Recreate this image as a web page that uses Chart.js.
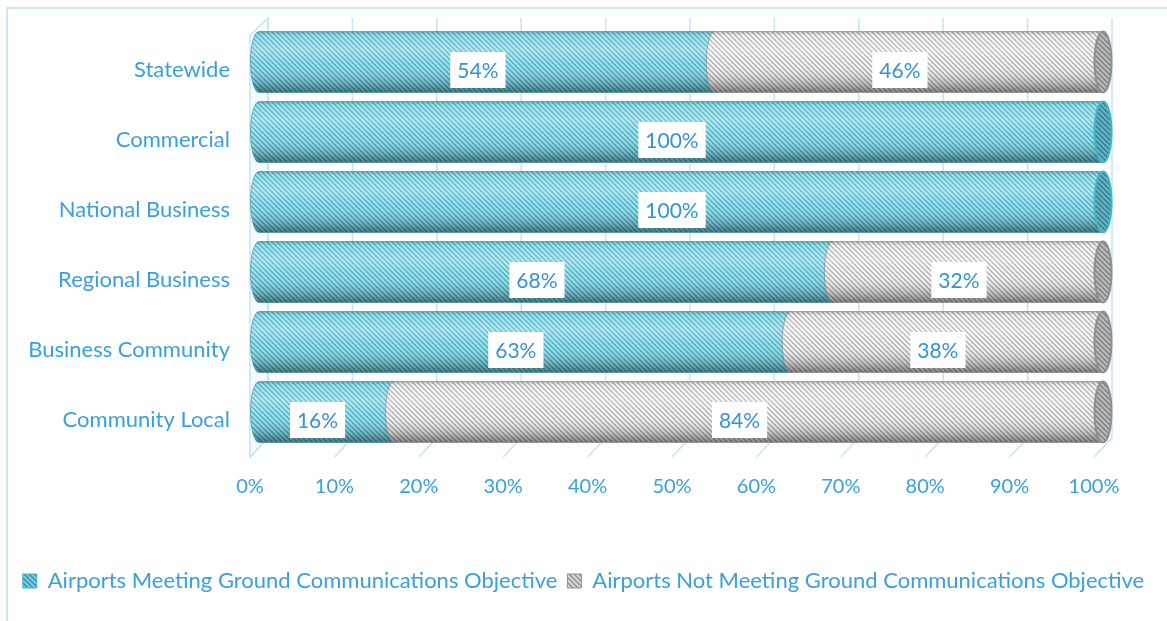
<!DOCTYPE html>
<html>
<head>
<meta charset="utf-8">
<script src="https://cdn.jsdelivr.net/npm/chart.js@4.4.1/dist/chart.umd.min.js"></script>
<style>
  html, body { margin: 0; padding: 0; background: #ffffff; }
  #wrap { width: 1167px; height: 621px; position: relative; }
</style>
</head>
<body>
<div id="wrap"><canvas id="chart" width="1167" height="621"></canvas></div>
<script>
// Airport categories, top to bottom
const categories = ['Statewide', 'Commercial', 'National Business', 'Regional Business', 'Business Community', 'Community Local'];
// Share of airports (percent) meeting / not meeting the objective
const meetingValues = [54, 100, 100, 68, 63, 16];
const notMeetingValues = [46, 0, 0, 32, 38, 84];
const seriesNames = ['Airports Meeting Ground Communications Objective', 'Airports Not Meeting Ground Communications Objective'];
const xTicks = [0, 10, 20, 30, 40, 50, 60, 70, 80, 90, 100];

const FONT = 'Lato, "Open Sans", sans-serif';
const TEXT = '#39a0db';
const GRID = '#c4e5f7';
// 3-D depth of the back wall, and the mid-depth offset of the cylinders
const DEPTH_X = 18, DEPTH_Y = 19;
const MID_X = 9, MID_Y = -8;

function hatch(bg, line) {
  const c = document.createElement('canvas');
  c.width = 5; c.height = 5;
  const g = c.getContext('2d');
  g.fillStyle = bg; g.fillRect(0, 0, 5, 5);
  g.strokeStyle = line; g.lineWidth = 1.3;
  g.beginPath();
  g.moveTo(-1, -1); g.lineTo(6, 6);
  g.moveTo(4, -1); g.lineTo(6, 1);
  g.moveTo(-1, 4); g.lineTo(1, 6);
  g.stroke();
  return g.createPattern(c, 'repeat');
}

const styles = [
  { body: hatch('#9be0ec', '#3aa6bc'), face: hatch('#7ccbdb', '#2f8ea2'), edge: '#3fb6cc', rim: '#2c8597' },
  { body: hatch('#f5f5f5', '#a6a6a6'), face: hatch('#d6d6d6', '#8c8c8c'), edge: '#8f8f8f', rim: '#7a7a7a' }
];

// outer frame, back wall grid and floor
const framePlugin = {
  id: 'frame',
  beforeDraw(chart) {
    const ctx = chart.ctx;
    ctx.save();
    ctx.fillStyle = '#ffffff';
    ctx.fillRect(0, 0, chart.width, chart.height);
    ctx.strokeStyle = '#c9e8f8';
    ctx.lineWidth = 2;
    ctx.strokeRect(7, 8, chart.width + 20, chart.height + 20);
    ctx.restore();
  },
  beforeDatasetsDraw(chart) {
    const ctx = chart.ctx, x = chart.scales.x, a = chart.chartArea;
    const frontFloor = a.bottom + 2;
    const backFloor = frontFloor - DEPTH_Y;
    const backTop = a.top - 17;
    ctx.save();
    ctx.strokeStyle = GRID;
    ctx.lineWidth = 1.5;
    // left wall
    const x0 = x.getPixelForValue(0);
    ctx.beginPath();
    ctx.moveTo(x0, a.top);
    ctx.lineTo(x0 + DEPTH_X, backTop);
    ctx.lineTo(x0 + DEPTH_X, backFloor);
    ctx.lineTo(x0, frontFloor);
    ctx.closePath();
    ctx.fillStyle = '#f4fafe';
    ctx.fill();
    ctx.stroke();
    xTicks.forEach(v => {
      const fx = x.getPixelForValue(v);
      const bx = fx + DEPTH_X;
      ctx.beginPath();
      ctx.moveTo(bx, backTop);
      ctx.lineTo(bx, backFloor);
      ctx.lineTo(fx, frontFloor);
      ctx.stroke();
    });
    ctx.restore();
  }
};

function segmentPath(ctx, x0, x1, top, bottom, rx) {
  const cy = (top + bottom) / 2, ry = (bottom - top) / 2;
  ctx.beginPath();
  ctx.moveTo(x0, top);
  ctx.lineTo(x1, top);
  ctx.ellipse(x1, cy, rx, ry, 0, -Math.PI / 2, Math.PI / 2, false);
  ctx.lineTo(x0, bottom);
  ctx.ellipse(x0, cy, rx, ry, 0, Math.PI / 2, Math.PI * 1.5, false);
  ctx.closePath();
}

// cylinders drawn from each bar element's geometry, at mid depth
const cylinderPlugin = {
  id: 'cylinders',
  afterDatasetsDraw(chart) {
    const ctx = chart.ctx;
    const a = chart.chartArea;
    const rx = 8.5;
    const n = chart.data.labels.length;
    const nds = chart.data.datasets.length;
    for (let i = 0; i < n; i++) {
      let last = -1;
      for (let d = 0; d < nds; d++) if (chart.data.datasets[d].data[i]) last = d;
      chart.data.datasets.forEach((ds, d) => {
        const el = chart.getDatasetMeta(d).data[i];
        const v = ds.data[i];
        if (!el || !v) return;
        const h = el.height;
        const cy = el.y + MID_Y;
        const top = cy - h / 2, bottom = cy + h / 2;
        // the stack is clipped to the scale range like the library's own bars
        const x0 = Math.max(a.left, Math.min(el.base, el.x)) + MID_X;
        const x1 = Math.min(a.right, Math.max(el.base, el.x)) + MID_X;
        const st = styles[d];
        ctx.save();
        segmentPath(ctx, x0, x1, top, bottom, rx);
        ctx.fillStyle = st.body;
        ctx.fill();
        const g = ctx.createLinearGradient(0, top, 0, bottom);
        g.addColorStop(0, 'rgba(0,0,0,0.20)');
        g.addColorStop(0.07, 'rgba(255,255,255,0.10)');
        g.addColorStop(0.3, 'rgba(255,255,255,0.28)');
        g.addColorStop(0.55, 'rgba(255,255,255,0.04)');
        g.addColorStop(0.85, 'rgba(0,0,0,0.20)');
        g.addColorStop(1, 'rgba(0,0,0,0.45)');
        ctx.fillStyle = g;
        ctx.fill();
        ctx.strokeStyle = st.rim;
        ctx.globalAlpha = 0.55;
        ctx.lineWidth = 1;
        ctx.stroke();
        ctx.globalAlpha = 1;
        // visible end face of the stack
        if (d === last) {
          ctx.beginPath();
          ctx.ellipse(x1, cy, rx, h / 2, 0, 0, Math.PI * 2);
          ctx.fillStyle = st.face;
          ctx.fill();
          ctx.fillStyle = 'rgba(0,0,0,0.12)';
          ctx.fill();
          ctx.strokeStyle = st.edge;
          ctx.lineWidth = 2;
          ctx.stroke();
        }
        ctx.restore();
      });
    }
    // value labels
    ctx.save();
    ctx.font = '21px ' + FONT;
    ctx.textAlign = 'center';
    ctx.textBaseline = 'middle';
    for (let i = 0; i < n; i++) {
      chart.data.datasets.forEach((ds, d) => {
        const el = chart.getDatasetMeta(d).data[i];
        const v = ds.data[i];
        if (!el || !v) return;
        const x0 = Math.max(a.left, Math.min(el.base, el.x));
        const x1 = Math.min(a.right, Math.max(el.base, el.x));
        const cx = (x0 + x1) / 2, cy = el.y;
        const txt = v + '%';
        const w = ctx.measureText(txt).width + 14;
        ctx.fillStyle = '#ffffff';
        ctx.fillRect(cx - w / 2, cy - 18, w, 36);
        ctx.fillStyle = '#3593d4';
        ctx.fillText(txt, cx, cy + 1);
      });
    }
    ctx.restore();
  }
};

new Chart(document.getElementById('chart'), {
  type: 'bar',
  data: {
    labels: categories,
    datasets: [
      { label: seriesNames[0], data: meetingValues, backgroundColor: 'rgba(0,0,0,0)', borderWidth: 0 },
      { label: seriesNames[1], data: notMeetingValues, backgroundColor: 'rgba(0,0,0,0)', borderWidth: 0 }
    ]
  },
  plugins: [framePlugin, cylinderPlugin],
  options: {
    indexAxis: 'y',
    responsive: false,
    animation: false,
    devicePixelRatio: 1,
    layout: { padding: { left: 0, right: 0, top: 35, bottom: 19 } },
    datasets: { bar: { categoryPercentage: 1, barPercentage: 0.87 } },
    scales: {
      x: {
        stacked: true, min: 0, max: 100,
        afterBuildTicks(scale) { scale.ticks = xTicks.map(v => ({ value: v })); },
        afterFit(scale) { scale.height = 105; },
        grid: { display: false, drawTicks: false },
        border: { display: false },
        ticks: { padding: 20, color: TEXT, font: { family: FONT, size: 20 }, callback: v => v + '%' }
      },
      y: {
        stacked: true,
        afterFit(scale) { scale.width = 250; },
        grid: { display: false, drawTicks: false },
        border: { display: false },
        ticks: { padding: 20, color: TEXT, font: { family: FONT, size: 22 } }
      },
      // empty margin on the right side of the plot
      yRight: {
        type: 'category',
        position: 'right',
        afterFit(scale) { scale.width = 73; },
        grid: { display: false, drawTicks: false },
        border: { display: false },
        ticks: { display: false }
      }
    },
    plugins: {
      tooltip: { enabled: false },
      legend: {
        position: 'bottom',
        labels: {
          color: TEXT,
          font: { family: FONT, size: 22 },
          boxWidth: 14, boxHeight: 14, padding: 10,
          generateLabels(chart) {
            return chart.data.datasets.map((ds, i) => ({
              text: ds.label,
              fillStyle: styles[i].face,
              strokeStyle: styles[i].edge,
              lineWidth: 1,
              fontColor: TEXT,
              datasetIndex: i
            }));
          }
        }
      }
    }
  }
});
</script>
</body>
</html>
